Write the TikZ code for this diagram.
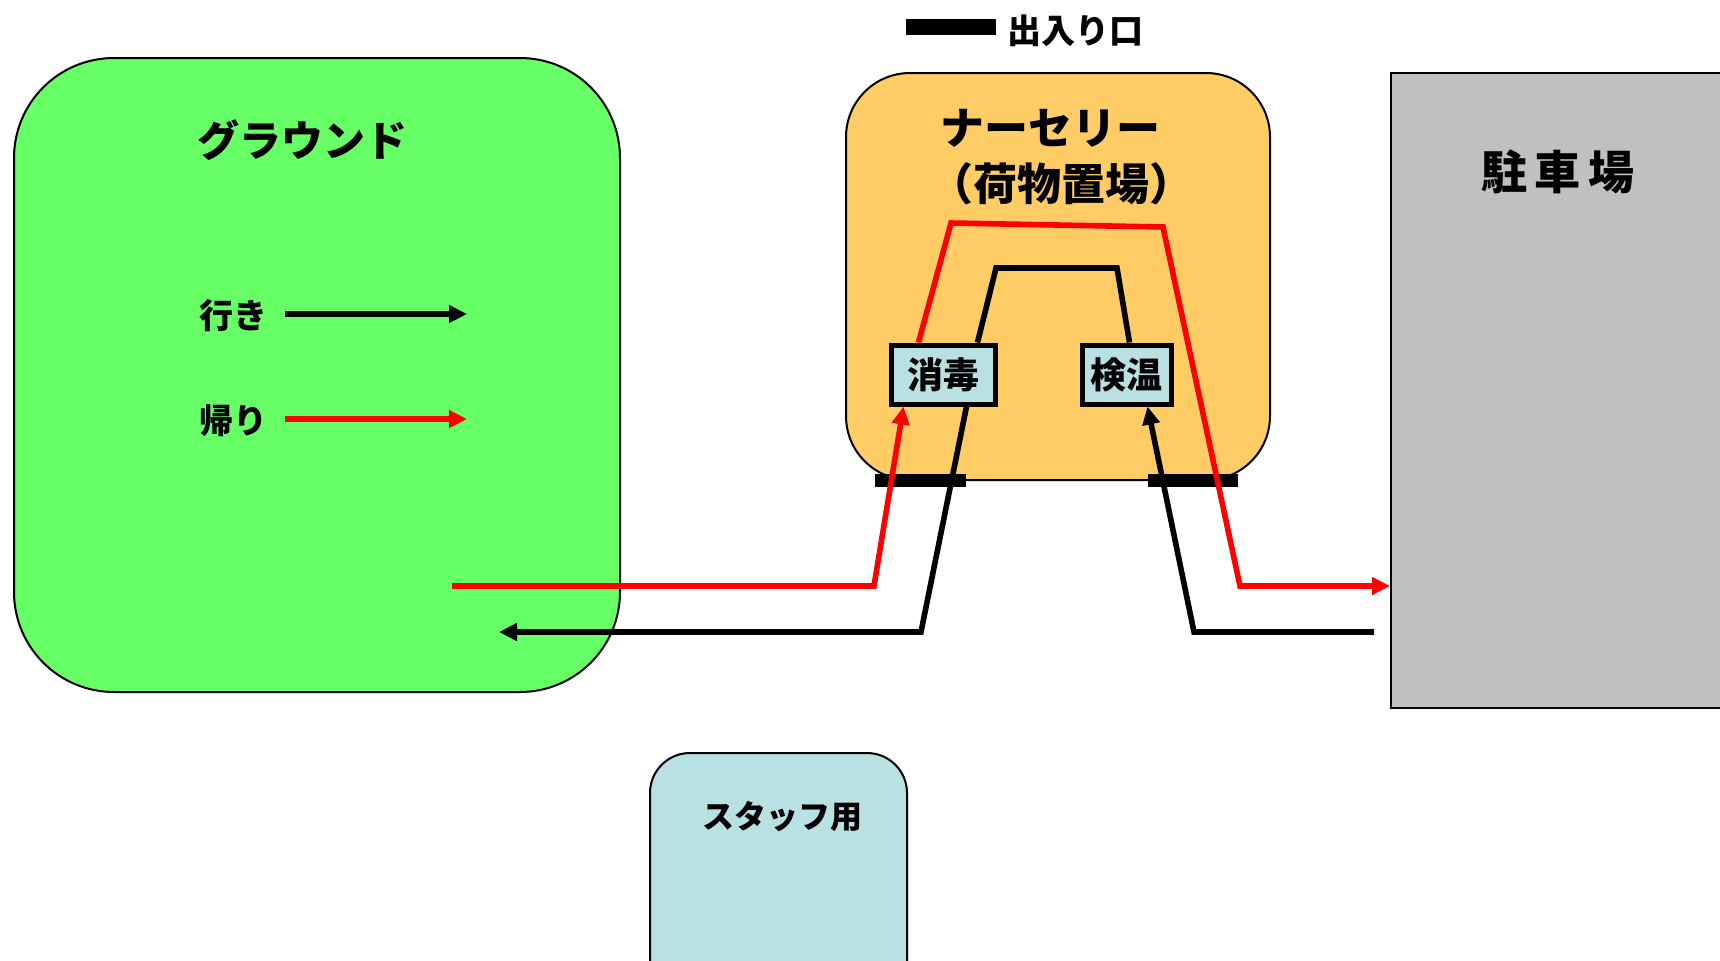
\documentclass[tikz,border=0pt]{standalone}
\usepackage{fontspec}
\setmainfont{Noto Sans CJK JP}
\usetikzlibrary{arrows.meta,calc}
\definecolor{grnd}{HTML}{66FF66}
\definecolor{nurs}{HTML}{FFCC66}
\definecolor{park}{HTML}{C0C0C0}
\definecolor{cyanbox}{HTML}{B9E0E3}
\newcommand{\fs}[1]{\fontsize{#1}{#1}\selectfont\bfseries}
\begin{document}
\begin{tikzpicture}[x=0.5pt,y=-0.5pt,
  area/.style={draw=black, line width=1pt, inner sep=0pt, anchor=north west},
  smallbox/.style={draw=black, line width=2.5pt, fill=cyanbox, inner sep=0pt, minimum height=29.5pt, font=\fs{18pt}},
  bar/.style={fill=black, inner sep=0pt, anchor=north west},
  lbl/.style={inner sep=0pt},
  blk/.style={draw=black, line width=2.8pt},
  rdl/.style={draw=red, line width=2.8pt},
  tip/.style={-{Triangle[length=9pt,width=8.5pt]}}]
\clip (0,0) rectangle (1720,960);
\fill[white] (0,0) rectangle (1720,960);
% areas
\node[area, fill=grnd, rounded corners=50pt, minimum width=303pt, minimum height=317pt] (ground) at (13,57) {};
\node[area, fill=nurs, rounded corners=32pt, minimum width=212pt, minimum height=203.5pt] (nursery) at (845,72) {};
\node[area, fill=park, line width=1.2pt, minimum width=190pt, minimum height=317.5pt] (parking) at (1390,72) {};
\node[area, fill=cyanbox, rounded corners=20pt, minimum width=128.5pt, minimum height=130pt] (staff) at (649,752) {};
% labels
\node[lbl, font=\fs{21pt}] (tground) at (302,140) {グラウンド};
\node[lbl, font=\fs{17pt}] (tgo) at (233,316) {行き};
\node[lbl, font=\fs{17pt}] (tback) at (233,421) {帰り};
\node[lbl, font=\fs{22pt}] (tnurs) at (1050,128) {ナーセリー};
\node[lbl, font=\fs{22pt}] (tnurs2) at (1061,184) {（荷物置場）};
\node[lbl, font=\fs{23pt}] (tpark) at (1558,172) {駐\,車\,場};
\node[lbl, font=\fs{17pt}] (tdoor) at (1075,31) {出入り口};
\node[lbl, font=\fs{16pt}] (tstaff) at (782,817) {スタッフ用};
% entrance bars
\node[bar, minimum width=45pt, minimum height=8pt] (legbar) at (906,19) {};
\node[bar, minimum width=45.5pt, minimum height=6.5pt] (door1) at (875,474) {};
\node[bar, minimum width=45pt, minimum height=6.5pt] (door2) at (1148,474) {};
% small boxes
\node[smallbox, minimum width=52pt] (sho) at (943,374.5) {消毒};
\node[smallbox, minimum width=44.5pt] (kek) at (1126.5,374.5) {検温};
% legend arrows
\coordinate (lg0) at (285,314);
\coordinate (lg1) at (467,314);
\coordinate (lr0) at (285,419);
\coordinate (lr1) at (467,419);
\draw[blk, tip] (lg0) -- (lg1);
\draw[rdl, tip] (lr0) -- (lr1);
% route coordinates
\coordinate (r0) at (452,586);
\coordinate (r1) at (874,586);
\coordinate (r2) at (951,223);
\coordinate (r3) at (1163,227);
\coordinate (r4) at (1240,586);
\coordinate (b0) at (1374,632);
\coordinate (b1) at (1194,632);
\coordinate (b2) at (996,268);
\coordinate (b3) at (1117,268);
\coordinate (b4) at (921,632);
\coordinate (b5) at (499,632);
% return route (red)
\draw[rdl, tip] (r0) -- (r1) -- ([xshift=7.5pt]sho.south west);
\draw[rdl, tip] ([xshift=15pt]sho.north west) -- (r2) -- (r3) -- (r4) -- (r4 -| parking.west);
% going route (black)
\draw[blk, tip] (b0) -- (b1) -- ([xshift=34pt]kek.south west);
\draw[blk] ([xshift=44.5pt]sho.north west) -- (b2) -- (b3) -- ([xshift=25pt]kek.north west);
\draw[blk, tip] ([xshift=39pt]sho.south west) -- (b4) -- (b5);
\end{tikzpicture}
\end{document}
